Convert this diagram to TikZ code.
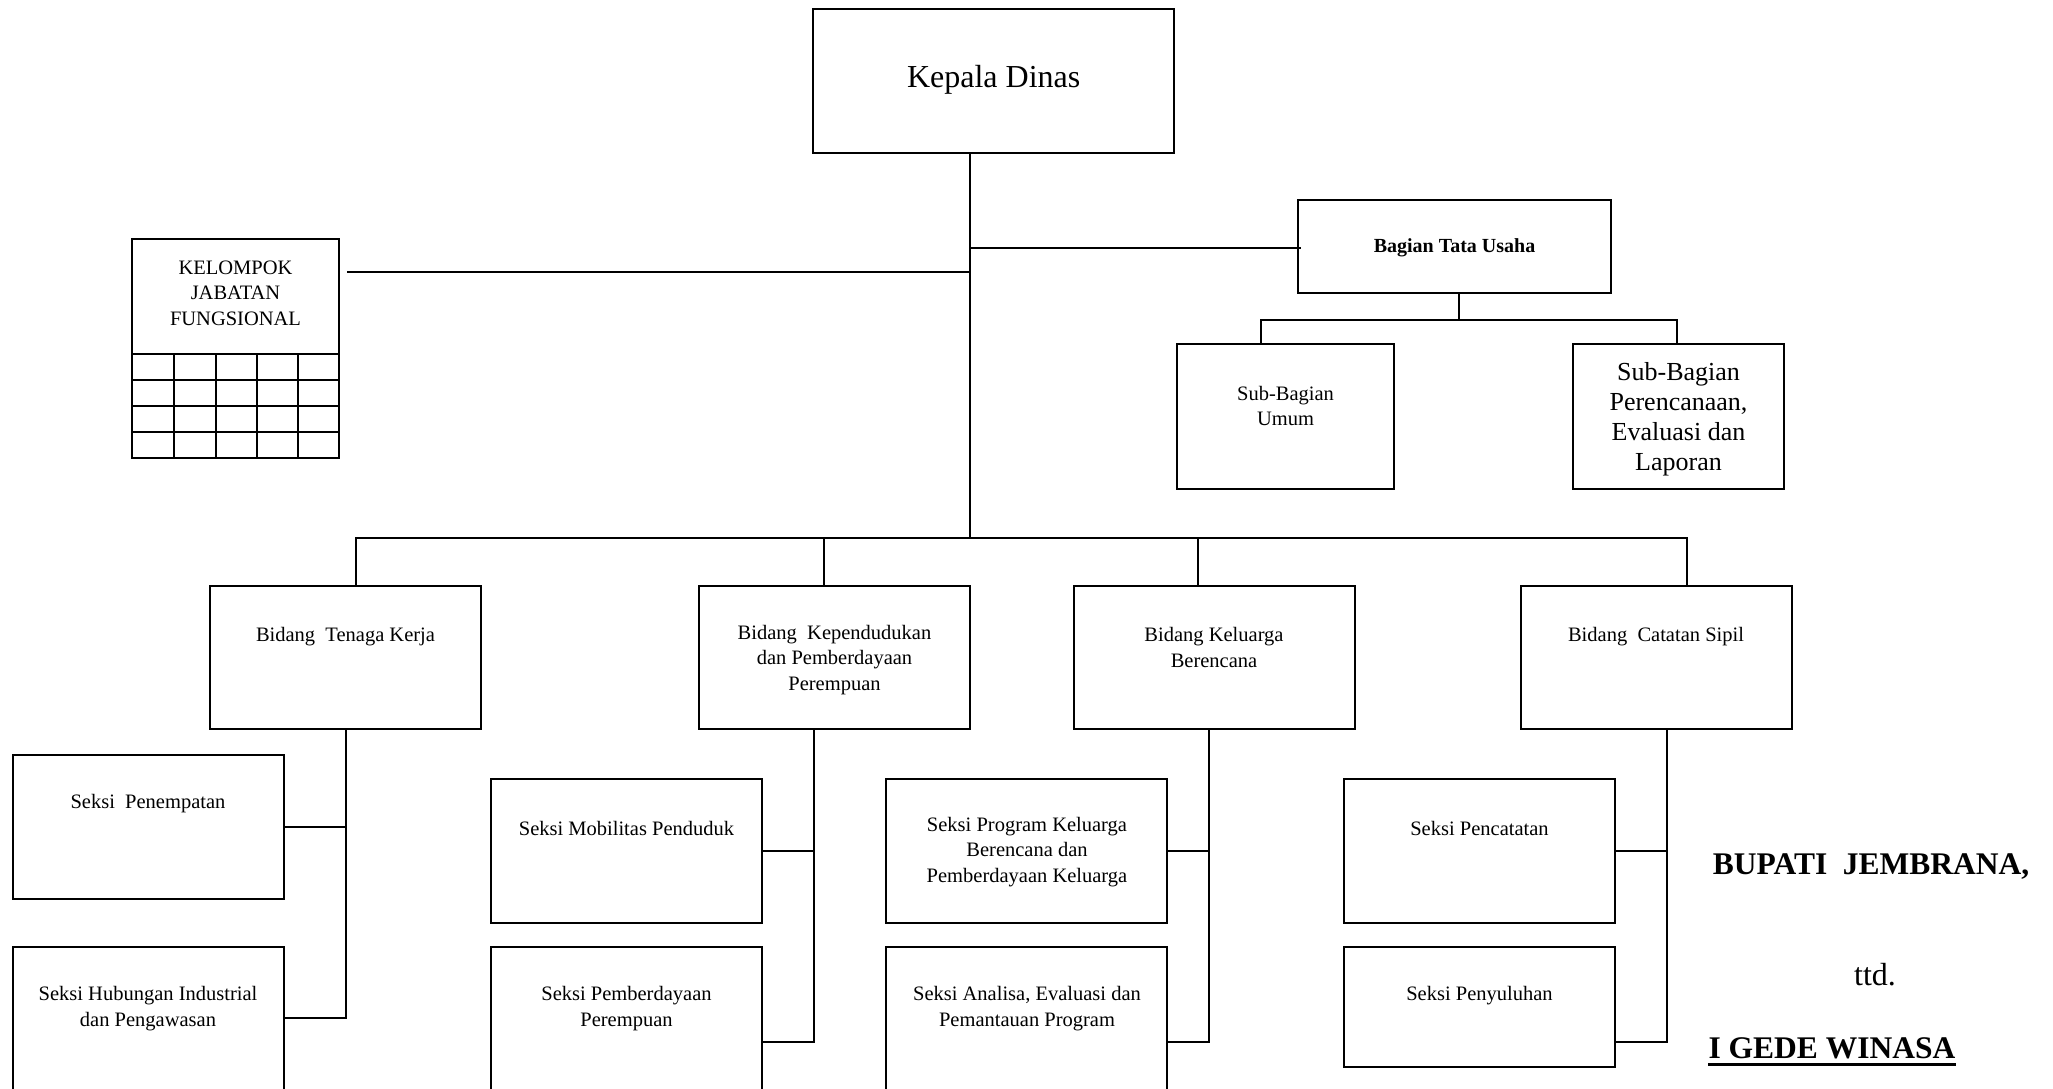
\documentclass[tikz,border=0pt]{standalone}
\usepackage{fontspec}
\setmainfont{Liberation Serif}
\begin{document}
\begin{tikzpicture}[x=1pt,y=-1pt,
  box/.style={draw, line width=2pt, inner sep=0pt},
  link/.style={line width=2pt},
  rule/.style={line width=2pt},
  lbl/.style={inner sep=0pt, align=center, font=\fontsize{20.5}{25.5}\selectfont},
  lblbig/.style={inner sep=0pt, align=center, font=\fontsize{26}{30}\selectfont},
  sig/.style={inner sep=0pt, font=\fontsize{32}{38}\selectfont},
  sigb/.style={inner sep=0pt, font=\fontsize{31.5}{38}\selectfont\bfseries},
]
\useasboundingbox (0,0) rectangle (2053,1089);
\clip (0,0) rectangle (2053,1089);

% ---- head of office ----
\node[box, minimum width=361, minimum height=144] (kd) at (993.5,81) {};
\node[sig, anchor=base] (kdt) at (993.7,87.3) {Kepala Dinas};

% ---- functional group with its grid ----
\node[box, minimum width=207, minimum height=219] (kjf) at (235.5,348.5) {};
\node[lbl] (kjft) at (235.5,293) {KELOMPOK\\JABATAN\\FUNGSIONAL};
\foreach \y in {354,380,406,432} \draw[rule] (132,\y) -- (339,\y);
\foreach \x in {174,216,257,298} \draw[rule] (\x,354) -- (\x,458);

% ---- secretariat ----
\node[box, minimum width=313, minimum height=93] (btu) at (1454.5,246.5) {};
\node[lbl, font=\fontsize{20}{24}\selectfont\bfseries] (btut) at (1454.5,248) {Bagian Tata Usaha};
\node[box, minimum width=217, minimum height=145] (sbu) at (1285.5,416.5) {};
\node[lbl] (sbut) at (1285.5,406) {Sub-Bagian\\Umum};
\node[box, minimum width=211, minimum height=145] (sbp) at (1678.5,416.5) {};
\node[lblbig] (sbpt) at (1678.5,419) {Sub-Bagian\\Perencanaan,\\Evaluasi dan\\Laporan};

% ---- divisions ----
\node[box, minimum width=271, minimum height=143] (btk) at (345.5,657.5) {};
\node[lbl] (btkt) at (345.5,636.5) {Bidang~ Tenaga Kerja};
\node[box, minimum width=271, minimum height=143] (bkp) at (834.5,657.5) {};
\node[lbl] (bkpt) at (834.5,660) {Bidang~ Kependudukan\\dan Pemberdayaan\\Perempuan};
\node[box, minimum width=281, minimum height=143] (bkb) at (1214.5,657.5) {};
\node[lbl] (bkbt) at (1214,647.5) {Bidang Keluarga\\Berencana};
\node[box, minimum width=271, minimum height=143] (bcs) at (1656.5,657.5) {};
\node[lbl] (bcst) at (1656,636.5) {Bidang~ Catatan Sipil};

% ---- sections, first row ----
\node[box, minimum width=271, minimum height=144] (sp) at (148.5,827) {};
\node[lbl] (spt) at (148,804) {Seksi~ Penempatan};
\node[box, minimum width=271, minimum height=144] (smp) at (626.5,851) {};
\node[lbl] (smpt) at (626.5,828) {Seksi Mobilitas Penduduk};
\node[box, minimum width=281, minimum height=144] (spkb) at (1026.5,851) {};
\node[lbl] (spkbt) at (1027,852) {Seksi Program Keluarga\\Berencana dan\\Pemberdayaan Keluarga};
\node[box, minimum width=271, minimum height=144] (spc) at (1479.5,851) {};
\node[lbl] (spct) at (1479.5,828) {Seksi Pencatatan};

% ---- sections, second row ----
\node[box, minimum width=271, minimum height=154] (shi) at (148.5,1024) {};
\node[lbl] (shit) at (148,1008.5) {Seksi Hubungan Industrial\\dan Pengawasan};
\node[box, minimum width=271, minimum height=154] (spp) at (626.5,1024) {};
\node[lbl] (sppt) at (626.5,1008.5) {Seksi Pemberdayaan\\Perempuan};
\node[box, minimum width=281, minimum height=154] (saep) at (1026.5,1024) {};
\node[lbl] (saept) at (1027,1008.5) {Seksi Analisa, Evaluasi dan\\Pemantauan Program};
\node[box, minimum width=271, minimum height=120] (spy) at (1479.5,1007) {};
\node[lbl] (spyt) at (1479.5,996) {Seksi Penyuluhan};

% ---- signature block ----
\node[sigb, anchor=base west] (bup) at (1712.7,874.3) {BUPATI~ JEMBRANA,};
\node[sig, anchor=base] (ttd) at (1875,985.7) {ttd.};
\node[sigb, anchor=base west] (wn) at (1708.3,1058.7) {I GEDE WINASA};
\draw[line width=3pt] ([yshift=-5.6pt]wn.base west) -- ([yshift=-5.6pt]wn.base east);

% ---- spine and side branches ----
\coordinate (hub) at (970,538);
\coordinate (jkf) at (970,272);
\coordinate (jtu) at (970,248);
\draw[link] (kd.south -| hub) -- (hub);
\draw[link] ([xshift=7pt]kjf.east |- jkf) -- (jkf);
\draw[link] (jtu) -- ([xshift=4pt]btu.west |- jtu);

% ---- secretariat sub-units ----
\coordinate (tuBus) at (1459,320);
\coordinate (dU) at (1261,320);
\coordinate (dP) at (1677,320);
\draw[link] (btu.south -| tuBus) -- (tuBus);
\draw[link] (sbu.north -| dU) -- (dU) -- (dP) -- (sbp.north -| dP);

% ---- division bus ----
\coordinate (b1) at (356,538);
\coordinate (b2) at (824,538);
\coordinate (b3) at (1198,538);
\coordinate (b4) at (1687,538);
\draw[link] (btk.north -| b1) -- (b1) -- (b4) -- (bcs.north -| b4);
\draw[link] (b2) -- (bkp.north -| b2);
\draw[link] (b3) -- (bkb.north -| b3);

% ---- section stems ----
\coordinate (s1) at (346,1018);
\draw[link] (btk.south -| s1) -- (s1) -- (shi.east |- s1);
\draw[link] (sp.east) -- (sp.east -| s1);
\coordinate (s2) at (814,1042);
\draw[link] (bkp.south -| s2) -- (s2) -- (spp.east |- s2);
\draw[link] (smp.east) -- (smp.east -| s2);
\coordinate (s3) at (1209,1042);
\draw[link] (bkb.south -| s3) -- (s3) -- (saep.east |- s3);
\draw[link] (spkb.east) -- (spkb.east -| s3);
\coordinate (s4) at (1667,1042);
\draw[link] (bcs.south -| s4) -- (s4) -- (spy.east |- s4);
\draw[link] (spc.east) -- (spc.east -| s4);
\end{tikzpicture}
\end{document}
